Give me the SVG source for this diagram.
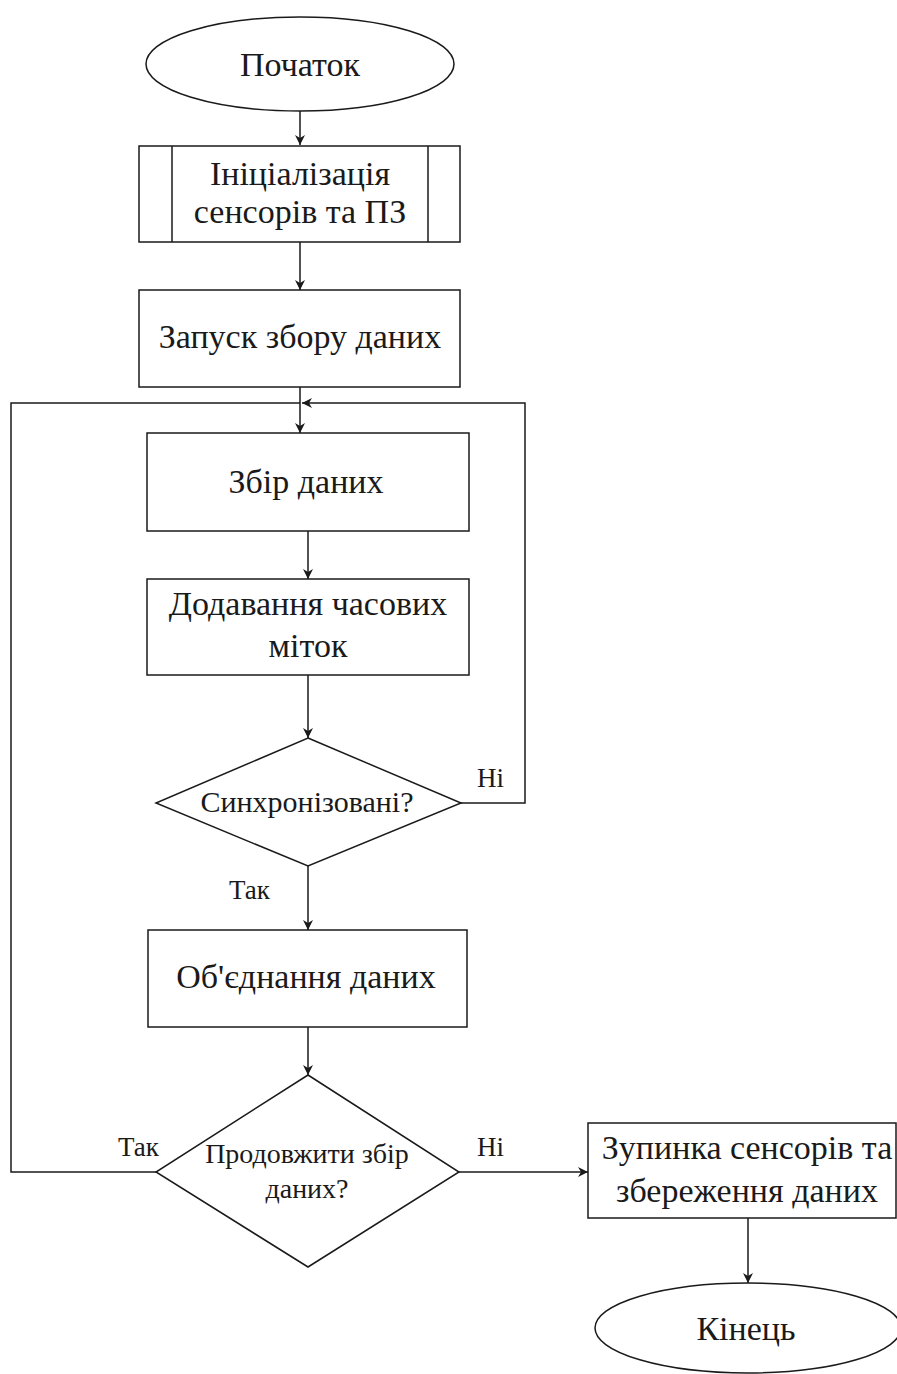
<svg xmlns="http://www.w3.org/2000/svg" width="897" height="1374" viewBox="0 0 897 1374">
<style>
.s{fill:#fff;stroke:#1a1a1a;stroke-width:1.5}
.t{font-family:"Liberation Serif","DejaVu Serif Condensed","DejaVu Serif",serif;font-size:34px;fill:#1a1a1a;text-anchor:middle}
.d{font-size:30px}
.e{font-size:28px}
.l{font-family:"Liberation Serif","DejaVu Serif Condensed","DejaVu Serif",serif;font-size:27px;fill:#1a1a1a}
.c{fill:none;stroke:#1a1a1a;stroke-width:1.5}
</style>
<defs>
<marker id="a" viewBox="0 0 10 10" refX="10" refY="5" markerWidth="10" markerHeight="10" markerUnits="userSpaceOnUse" orient="auto">
<path d="M0,0 L10,5 L0,10 L3,5 Z" fill="#1a1a1a"/>
</marker>
</defs>
<g id="connectors">
<path class="c" d="M300,111 V145" marker-end="url(#a)"/>
<path class="c" d="M300,242 V290" marker-end="url(#a)"/>
<path class="c" d="M300,387 V433" marker-end="url(#a)"/>
<path class="c" d="M308,531 V579" marker-end="url(#a)"/>
<path class="c" d="M308,675 V738" marker-end="url(#a)"/>
<path class="c" d="M461,803 H525 V403 H302" marker-end="url(#a)"/>
<path class="c" d="M308,866 V930" marker-end="url(#a)"/>
<path class="c" d="M308,1027 V1075" marker-end="url(#a)"/>
<path class="c" d="M156,1172 H11 V403 H300"/>
<path class="c" d="M459,1172 H588" marker-end="url(#a)"/>
<path class="c" d="M748,1218 V1283" marker-end="url(#a)"/>
<text class="l" x="477" y="787">Ні</text>
<text class="l" x="229" y="899">Так</text>
<text class="l" x="118" y="1156">Так</text>
<text class="l" x="477" y="1156">Ні</text>
</g>
<g id="start">
<ellipse class="s" cx="300" cy="64" rx="154" ry="47"/>
<text class="t" x="300" y="76">Початок</text>
</g>
<g id="init">
<rect class="s" x="139" y="146" width="321" height="96"/>
<path class="c" d="M172,146 V242 M428,146 V242"/>
<text class="t" x="300" y="185">Ініціалізація</text>
<text class="t" x="300" y="223">сенсорів та ПЗ</text>
</g>
<g id="launch">
<rect class="s" x="139" y="290" width="321" height="97"/>
<text class="t" x="300" y="348">Запуск збору даних</text>
</g>
<g id="collect">
<rect class="s" x="147" y="433" width="322" height="98"/>
<text class="t" x="306" y="493">Збір даних</text>
</g>
<g id="timestamps">
<rect class="s" x="147" y="579" width="322" height="96"/>
<text class="t" x="308" y="615">Додавання часових</text>
<text class="t" x="308" y="657">міток</text>
</g>
<g id="sync">
<polygon class="s" points="308,738 461,803 308,866 156,803"/>
<text class="t d" x="307" y="812">Синхронізовані?</text>
</g>
<g id="merge">
<rect class="s" x="148" y="930" width="319" height="97"/>
<text class="t" x="306" y="988">Об'єднання даних</text>
</g>
<g id="continue">
<polygon class="s" points="308,1075 459,1172 308,1267 156,1172"/>
<text class="t e" x="307" y="1163">Продовжити збір</text>
<text class="t e" x="307" y="1198">даних?</text>
</g>
<g id="stop">
<rect class="s" x="588" y="1123" width="308" height="95"/>
<text class="t" x="747" y="1159">Зупинка сенсорів та</text>
<text class="t" x="747" y="1202">збереження даних</text>
</g>
<g id="end">
<ellipse class="s" cx="748" cy="1328" rx="153" ry="45"/>
<text class="t" x="746" y="1340">Кінець</text>
</g>
</svg>
